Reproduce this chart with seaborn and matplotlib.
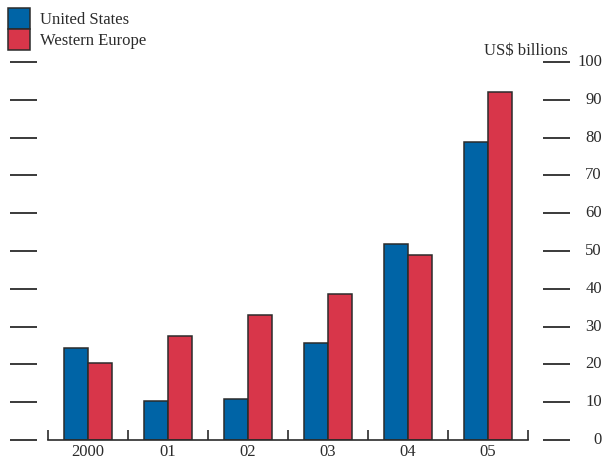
import pandas as pd
import matplotlib.pyplot as plt
import seaborn as sns

# values (US$ billions)
years = ["2000", "01", "02", "03", "04", "05"]
us = [24.3, 10.4, 10.9, 25.7, 51.9, 78.9]
western_europe = [20.3, 27.6, 33.0, 38.6, 48.9, 92.1]
yticks = [0, 10, 20, 30, 40, 50, 60, 70, 80, 90, 100]

df = pd.DataFrame({
    "year": years * 2,
    "value": us + western_europe,
    "region": ["United States"] * len(years) + ["Western Europe"] * len(years),
})

sns.set_style("white")
plt.rcParams["font.family"] = ["Liberation Serif", "DejaVu Serif"]
ink = "#2b2b2b"

W, H = 603, 461
fig = plt.figure(figsize=(W / 100, H / 100), dpi=100)
ax = fig.add_axes([48 / W, (H - 440) / H, 480 / W, 378 / H])

sns.barplot(data=df, x="year", y="value", hue="region", order=years,
            palette=["#0064a6", "#d8364a"], width=0.6, saturation=1,
            edgecolor=ink, linewidth=1.1, ax=ax)

ax.set_xlim(-0.5, len(years) - 0.5)
ax.set_ylim(0, 100)
ax.set_xlabel("")
ax.set_ylabel("")
ax.set_yticks([])
for s in ["left", "right", "top"]:
    ax.spines[s].set_visible(False)
ax.spines["bottom"].set_color(ink)
ax.spines["bottom"].set_linewidth(1.2)

# year labels in the middle, boundary ticks pointing up
ax.set_xticks(range(len(years)))
ax.set_xticklabels(years, fontsize=12, color=ink)
ax.tick_params(axis="x", which="major", length=0, pad=3)
ax.set_xticks([i - 0.5 for i in range(len(years) + 1)], minor=True)
ax.tick_params(axis="x", which="minor", bottom=True, direction="in",
               length=7, width=1.2, color=ink)

# short dashes either side, value labels on the right
tr = ax.get_yaxis_transform()
ax.hlines(yticks, -38 / 480, -11 / 480, transform=tr, colors=ink,
          linewidth=1.3, clip_on=False)
ax.hlines(yticks, 495 / 480, 522 / 480, transform=tr, colors=ink,
          linewidth=1.3, clip_on=False)
for v in yticks:
    ax.text(554 / 480, v, str(v), transform=tr, ha="right", va="center",
            fontsize=12, color=ink)
ax.text(520 / 480, 103, "US$ billions", transform=tr, ha="right",
        va="center", fontsize=12, color=ink)

leg = ax.legend(loc="upper left", bbox_to_anchor=(8 / W, 1 - 8 / H),
                bbox_transform=fig.transFigure, frameon=False, fontsize=12,
                handlelength=1.3, handleheight=1.55, handletextpad=0.6,
                labelspacing=0.0, borderpad=0, borderaxespad=0)
for t in leg.get_texts():
    t.set_color(ink)

fig.savefig("out.png", dpi=100)
